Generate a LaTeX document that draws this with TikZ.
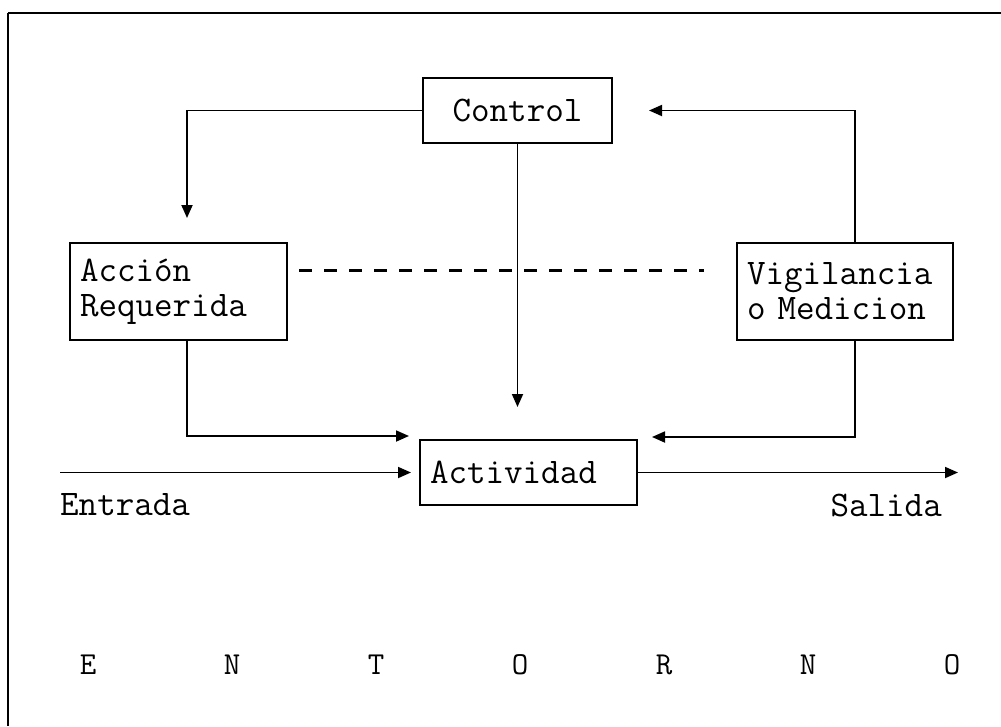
\documentclass[tikz,border=0pt]{standalone}
\usepackage{fontspec}
\usetikzlibrary{arrows.meta}
\begin{document}
\begin{tikzpicture}[x=1pt,y=-1pt,
  txt/.style={font=\ttfamily\fontsize{36}{36}\selectfont},
  box/.style={draw,line width=2pt,inner ysep=0pt,inner xsep=10pt,txt},
  wire/.style={line width=1.8pt},
  arr/.style={wire,-{Triangle[length=13pt,width=11pt]}},
  lbl/.style={inner sep=0pt,txt},
  letter/.style={inner sep=0pt,font=\ttfamily\fontsize{32}{32}\selectfont}]
\useasboundingbox (0,0) rectangle (1001,726);
\fill[white] (0,0) rectangle (1001,726);
% frame edges
\draw[line width=2.5pt] (8,13) -- (1001,13);
\draw[line width=2pt] (8,13) -- (8,726);

% boxes
\node[box,minimum width=189pt,minimum height=65pt] (ctl) at (517.5,110.5) {Control};
\node[box,minimum width=217pt,minimum height=97pt,text width=197pt,align=left] (acc) at (178.5,291.5) {Acción\\[-1pt]Requerida};
\node[box,minimum width=216pt,minimum height=97pt,text width=196pt,align=left] (vig) at (845,291.5) {Vigilancia\\[-1pt]o Medicion};
\node[box,minimum width=217pt,minimum height=65pt,text width=197pt,align=left] (act) at (528.5,472.5) {Actividad};

% free ends
\coordinate (inp) at (60,472.5);
\coordinate (outp) at (958,472.5);

% feedback loop
\draw[arr,shorten >=24pt] (ctl.west) -| ([xshift=8.5pt]acc.north);
\draw[arr,shorten >=36pt] ([xshift=10pt]vig.north) |- (ctl.east);
\draw[arr,shorten >=32pt] (ctl.south) -- (ctl.south |- act.north);
\draw[arr,shorten >=10pt] ([xshift=8.5pt]acc.south) |- ([yshift=3pt]act.north west);
\draw[arr,shorten >=14pt] ([xshift=10pt]vig.south) |- ([yshift=2pt]act.north east);
\draw[line width=2.4pt,dash pattern=on 13pt off 12pt] ([xshift=11pt,yshift=21pt]acc.east) -- ([xshift=-32pt,yshift=21pt]vig.west);

% input and output
\draw[arr,shorten >=8pt] (inp) -- (act.west);
\draw[arr] (act.east) -- (outp);
\node[lbl,anchor=west] (ent) at (60,505) {Entrada};
\node[lbl,anchor=east] (sal) at (942,505) {Salida};

% surroundings
\foreach \ch [count=\i] in {E,N,T,O,R,N,O}
  \node[letter] (env\i) at ({88+144*(\i-1)},665) {\ch};
\end{tikzpicture}
\end{document}
